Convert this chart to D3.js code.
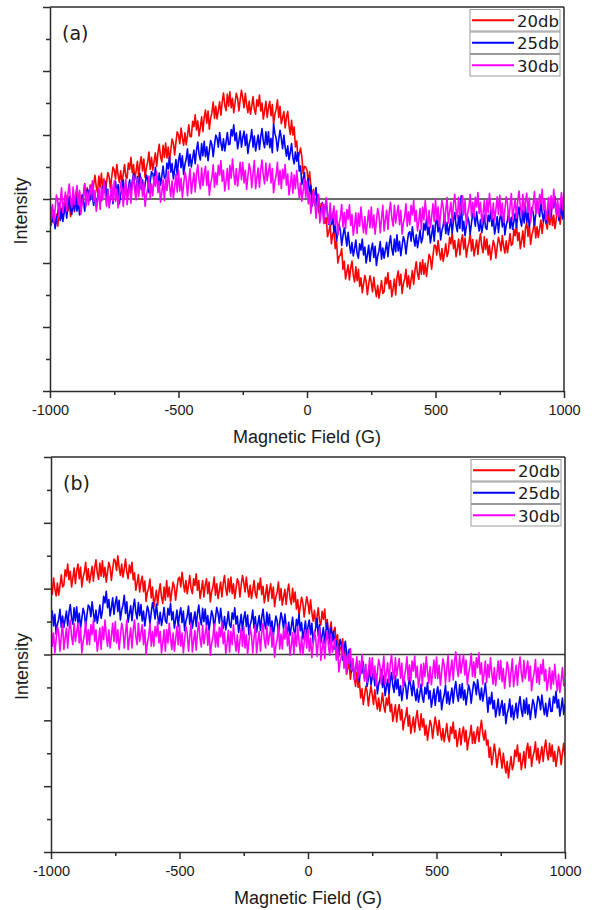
<!DOCTYPE html>
<html>
<head>
<meta charset="utf-8">
<script src="https://cdn.jsdelivr.net/npm/d3@7"></script>
<style>
  html, body { margin: 0; padding: 0; background: #fff; }
  svg { display: block; }
</style>
</head>
<body>
<svg id="chart" width="595" height="910"></svg>
<script>
// Magnetic field sweep, one sample every 5 G
const field = d3.range(-1000, 1001, 5);

const seriesNames = ["20db", "25db", "30db"];
const seriesColors = ["#ff0000", "#0000ff", "#ff00ff"];

const xMajorTicks = [-1000, -500, 0, 500, 1000];
const xMinorTicks = [-750, -250, 250, 750];
const yMajorTicks = [-6, -4, -2, 0, 2, 4, 6];
const yMinorTicks = [-5, -3, -1, 1, 3, 5];

// Panel (a) spectra, one row per 50 G
const redA = [
  -.55,-.82,-.33,-.65,-.87,-.48,-.85,-.57,-.23,-.6,
  -.6,-.12,-.28,.1,-.37,-.08,-.55,-.27,.07,-.4,
  0,.23,-.18,.2,-.37,-.03,.15,.48,-.03,.35,
  -.1,.18,.46,.03,.46,.74,.37,.19,.72,.35,
  .8,.32,.63,.2,.52,.83,.7,.32,.68,1,
  .9,.62,1.08,.75,.52,.88,.5,.77,1.08,.7,
  .65,1.12,.93,1.3,.82,1.08,.6,.87,1.18,.7,
  1.1,1.32,.88,1.25,.67,.98,1.15,1.47,.93,1.3,
  .9,1.17,1.44,1.02,1.44,1.71,1.33,1.16,1.68,1.3,
  1.75,1.28,1.62,1.2,1.53,1.87,1.75,1.38,1.77,2.1,
  2,1.73,2.22,1.9,1.68,2.07,1.7,1.98,2.32,1.95,
  1.95,2.43,2.26,2.63,2.16,2.44,1.97,2.24,2.57,2.1,
  2.55,2.78,2.37,2.75,2.18,2.52,2.7,3.03,2.52,2.9,
  2.5,2.77,3.04,2.62,3.04,3.31,2.93,2.76,3.28,2.9,
  3.35,2.85,3.15,2.7,3,3.3,3.15,2.75,3.1,3.4,
  3.15,2.85,3.3,2.95,2.7,3.05,2.65,2.9,3.2,2.8,
  2.65,3.1,2.9,3.25,2.75,3,2.5,2.75,3.05,2.55,
  2.85,3.05,2.6,2.95,2.35,2.65,2.8,3.1,2.55,2.9,
  2.35,2.54,2.73,2.22,2.56,2.74,2.28,2.02,2.46,2,
  2.25,1.63,1.81,1.23,1.41,1.59,1.32,.79,1.02,1,
  .9,.5,.85,.4,.05,.3,-.2,-.05,.15,-.35,
  -.5,-.14,-.43,-.17,-.76,-.59,-1.18,-1.02,-.81,-1.4,
  -1.1,-1,-1.55,-1.3,-2,-1.8,-1.75,-1.55,-2.2,-1.95,
  -2.5,-2.28,-2.06,-2.53,-2.16,-1.94,-2.37,-2.59,-2.12,-2.55,
  -2.2,-2.73,-2.46,-2.93,-2.66,-2.39,-2.57,-2.99,-2.67,-2.4,
  -2.6,-2.9,-2.45,-2.8,-3.05,-2.7,-3.1,-2.85,-2.55,-2.95,
  -2.9,-2.45,-2.65,-2.3,-2.8,-2.55,-3.05,-2.8,-2.5,-3,
  -2.45,-2.25,-2.7,-2.35,-2.95,-2.65,-2.5,-2.2,-2.75,-2.4,
  -2.8,-2.52,-2.24,-2.67,-2.24,-1.96,-2.33,-2.51,-1.98,-2.35,
  -1.9,-2.36,-2.01,-2.42,-2.07,-1.73,-1.83,-2.19,-1.79,-1.45,
  -1.45,-1.75,-1.3,-1.65,-1.9,-1.55,-1.95,-1.7,-1.4,-1.8,
  -1.65,-1.2,-1.4,-1.05,-1.55,-1.3,-1.8,-1.55,-1.25,-1.75,
  -1.32,-1.12,-1.57,-1.22,-1.82,-1.52,-1.37,-1.07,-1.62,-1.27,
  -1.78,-1.53,-1.28,-1.73,-1.33,-1.08,-1.48,-1.68,-1.18,-1.58,
  -1.25,-1.75,-1.45,-1.9,-1.6,-1.3,-1.45,-1.85,-1.5,-1.2,
  -1.35,-1.62,-1.14,-1.47,-1.69,-1.31,-1.68,-1.41,-1.08,-1.45,
  -1.4,-.95,-1.15,-.8,-1.3,-1.05,-1.55,-1.3,-1,-1.5,
  -.92,-.72,-1.17,-.82,-1.42,-1.12,-.97,-.67,-1.22,-.87,
  -1.2,-.93,-.66,-1.08,-.66,-.39,-.77,-.94,-.42,-.8,
  -.35,-.83,-.51,-.93,-.61,-.29,-.42,-.79,-.42,-.1,
  -.4
];
const blueA = [
  -.5,-.28,-.72,-.35,-.93,-.62,-.45,-.13,-.67,-.3,
  -.7,-.43,-.17,-.6,-.18,.08,-.3,-.48,.03,-.35,
  .1,-.38,-.07,-.5,-.18,.13,0,-.38,-.02,.3,
  .25,-.05,.4,.05,-.2,.15,-.25,0,.3,-.1,
  -.05,.4,.2,.55,.05,.3,-.2,.05,.35,-.15,
  .35,.55,.1,.45,-.15,.15,.3,.6,.05,.4,
  .1,.35,.6,.15,.55,.8,.4,.2,.7,.3,
  .8,.3,.6,.15,.45,.75,.6,.2,.55,.85,
  .8,.52,.99,.67,.44,.81,.43,.71,1.03,.65,
  .65,1.12,.94,1.32,.84,1.11,.63,.91,1.23,.75,
  1.2,1.42,.98,1.35,.77,1.08,1.25,1.57,1.03,1.4,
  1,1.27,1.53,1.1,1.52,1.78,1.4,1.22,1.73,1.35,
  1.8,1.32,1.63,1.2,1.52,1.83,1.7,1.32,1.68,2,
  1.9,1.62,2.08,1.75,1.52,1.88,1.5,1.77,2.08,1.7,
  1.72,2.17,1.97,2.32,1.82,2.07,1.57,1.82,2.12,1.62,
  1.92,2.12,1.67,2.02,1.42,1.72,1.87,2.17,1.62,1.97,
  1.5,1.75,2,1.55,1.95,2.2,1.8,1.6,2.1,1.7,
  2.1,1.6,1.9,1.45,2.35,2.05,1.9,1.5,1.85,2.15,
  1.9,1.57,1.99,1.62,1.34,1.66,1.23,1.46,1.73,1.3,
  1.1,1.47,1.18,1.45,.87,1.03,.45,.62,.83,.25,
  .5,.64,.14,.43,-.22,.02,.12,.36,-.24,.05,
  -.5,-.31,-.11,-.62,-.27,-.08,-.53,-.79,-.34,-.8,
  -.5,-1.05,-.8,-1.3,-1.05,-.8,-1,-1.45,-1.15,-.9,
  -1.15,-1.47,-1.04,-1.42,-1.69,-1.36,-1.78,-1.56,-1.28,-1.7,
  -1.85,-1.4,-1.6,-1.25,-1.75,-1.5,-2,-1.75,-1.45,-1.95,
  -1.58,-1.38,-1.83,-1.48,-2.08,-1.78,-1.63,-1.33,-1.88,-1.53,
  -1.85,-1.6,-1.35,-1.8,-1.4,-1.15,-1.55,-1.75,-1.25,-1.65,
  -1.12,-1.62,-1.32,-1.77,-1.47,-1.17,-1.32,-1.72,-1.37,-1.07,
  -1.02,-1.32,-.87,-1.22,-1.47,-1.12,-1.52,-1.27,-.97,-1.37,
  -1.22,-.77,-.97,-.62,-1.12,-.87,-1.37,-1.12,-.82,-1.32,
  -.78,-.58,-1.03,-.68,-1.28,-.98,-.83,-.53,-1.08,-.73,
  -1.12,-.87,-.62,-1.07,-.67,-.42,-.82,-1.02,-.52,-.92,
  .1,-1,-.7,-1.15,-.85,-.55,-.7,-1.1,-.75,-.45,
  -.55,-.85,-.4,-.75,-1,-.65,-1.05,-.8,-.5,-.9,
  -.95,-.5,-.7,-.35,-.85,-.6,-1.1,-.85,-.55,-1.05,
  -.62,-.42,-.87,-.52,-1.12,-.82,-.67,-.37,-.92,-.57,
  -.95,-.7,-.45,-.9,-.5,-.25,-.65,-.85,-.35,-.75,
  -.22,-.72,-.42,-.87,-.57,-.27,-.42,-.82,-.47,-.17,
  -.25,-.55,-.1,-.45,-.7,-.35,-.75,-.5,-.2,-.6,
  -.52,-.07,-.27,.08,-.42,-.17,-.67,-.42,-.12,-.62,
  -.3
];
const magentaA = [
  0,-.62,-.18,-.75,-.32,.12,-.05,-.57,-.08,.35,
  -.43,-.08,.22,-.38,.17,.47,-.03,-.28,.37,-.18,
  .17,.42,-.18,.27,-.48,-.13,.07,.47,-.23,.22,
  -.18,.42,.12,.57,-.08,.27,-.38,-.08,.32,-.33,
  .37,-.03,.57,.12,-.23,.27,-.28,.07,.47,-.08,
  .57,-.08,.32,-.28,.12,.52,.32,-.23,.22,.62,
  -.18,.17,.47,-.13,.42,.72,.22,-.03,.62,.07,
  .42,.67,.07,.52,-.23,.12,.32,.72,.02,.47,
  .1,.7,.4,.85,.2,.55,-.1,.2,.6,-.05,
  .67,.27,.87,.42,.07,.57,.02,.37,.77,.22,
  .9,.25,.65,.05,.45,.85,.65,.1,.55,.95,
  .17,.52,.82,.22,.77,1.07,.57,.32,.97,.42,
  .77,1.02,.42,.87,.12,.47,.67,1.07,.37,.82,
  .45,1.05,.75,1.2,.55,.9,.25,.55,.95,.3,
  1.05,.65,1.25,.8,.45,.95,.4,.75,1.15,.6,
  1.15,.5,.9,.3,.7,1.1,.9,.35,.8,1.2,
  .32,.67,.97,.37,.92,1.22,.72,.47,1.12,.57,
  .85,1.1,.5,.95,.2,.55,.75,1.15,.45,.9,
  .33,.93,.63,1.08,.43,.78,.13,.43,.83,.18,
  .75,.32,.89,.42,.04,.51,-.07,.26,.63,.05,
  .55,-.15,.2,-.45,-.1,.25,0,-.6,-.2,.15,
  -.75,-.42,-.14,-.77,-.24,.04,-.48,-.76,-.13,-.7,
  -.47,-.22,-.82,-.37,-1.12,-.77,-.57,-.17,-.87,-.42,
  -.93,-.33,-.63,-.18,-.83,-.48,-1.13,-.83,-.43,-1.08,
  -.45,-.85,-.25,-.7,-1.05,-.55,-1.1,-.75,-.35,-.9,
  -.25,-.9,-.5,-1.1,-.7,-.3,-.5,-1.05,-.6,-.2,
  -1,-.65,-.35,-.95,-.4,-.1,-.6,-.85,-.2,-.75,
  -.45,-.2,-.8,-.35,-1.1,-.75,-.55,-.15,-.85,-.4,
  -.8,-.2,-.5,-.05,-.7,-.35,-1,-.7,-.3,-.95,
  -.25,-.65,-.05,-.5,-.85,-.35,-.9,-.55,-.15,-.7,
  0,-.65,-.25,-.85,-.45,-.05,-.25,-.8,-.35,.05,
  -.75,-.4,-.1,-.7,-.15,.15,-.35,-.6,.05,-.5,
  -.15,.1,-.5,-.05,-.8,-.45,-.25,.15,-.55,-.1,
  -.55,.05,-.25,.2,-.45,-.1,-.75,-.45,-.05,-.7,
  -.03,-.43,.17,-.28,-.63,-.13,-.68,-.33,.07,-.48,
  .12,-.53,-.13,-.73,-.33,.07,-.13,-.68,-.23,.17,
  -.65,-.3,0,-.6,-.05,.25,-.25,-.5,.15,-.4,
  -.07,.18,-.42,.03,-.72,-.37,-.17,.23,-.47,-.02,
  -.45,.15,-.15,.3,-.35,0,-.65,-.35,.05,-.6,
  .1,-.3,.3,-.15,-.5,0,-.55,-.2,.2,-.35,
  .2
];

// Panel (b) spectra, one row per 50 G
const redB = [
  2.1,1.83,2.32,2,1.78,2.17,1.8,2.08,2.42,2.05,
  2.1,2.57,2.38,2.75,2.27,2.53,2.05,2.32,2.63,2.15,
  2.55,2.75,2.3,2.65,2.05,2.35,2.5,2.8,2.25,2.6,
  2.18,2.43,2.68,2.23,2.63,2.88,2.48,2.28,2.78,2.38,
  2.85,2.35,2.65,2.2,2.5,2.8,2.65,2.25,2.6,2.9,
  2.85,2.55,3,2.65,2.4,2.75,2.35,2.6,2.9,2.5,
  2.3,2.72,2.48,2.8,2.27,2.48,1.95,2.17,2.43,1.9,
  2.2,2.38,1.91,2.23,1.61,1.89,2.02,2.29,1.72,2.05,
  1.45,1.7,1.95,1.5,1.9,2.15,1.75,1.55,2.05,1.65,
  2.25,1.75,2.05,1.6,1.9,2.2,2.05,1.65,2,2.3,
  2.35,2.05,2.5,2.15,1.9,2.25,1.85,2.1,2.4,2,
  1.85,2.3,2.1,2.45,1.95,2.25,1.7,1.95,2.25,1.75,
  2.1,2.3,1.85,2.2,1.6,1.9,2.05,2.35,1.8,2.15,
  1.7,1.95,2.2,1.75,2.15,2.4,2,1.8,2.3,1.9,
  2.35,1.85,2.15,1.7,2,2.3,2.2,1.75,2.1,2.4,
  2.2,1.9,2.35,2,1.75,2.1,1.7,1.95,2.25,1.85,
  1.72,2.17,1.97,2.32,1.82,2.07,1.57,1.82,2.12,1.62,
  1.95,2.15,1.7,2.05,1.45,1.75,1.9,2.2,1.65,2,
  1.5,1.74,1.98,1.52,1.91,2.14,1.73,1.52,2.01,1.6,
  1.9,1.38,1.66,1.18,1.46,1.74,1.57,1.14,1.47,1.75,
  1.55,1.23,1.66,1.28,1.01,1.34,.92,1.14,1.42,1,
  .9,1.31,1.07,1.38,.84,1.06,.52,.73,.99,.45,
  .7,.83,.32,.6,-.07,.17,.25,.48,-.13,.15,
  -.6,-.42,-.23,-.75,-.42,-.23,-.7,-.97,-.53,-1,
  -.8,-1.32,-1.04,-1.52,-1.24,-.96,-1.13,-1.56,-1.23,-.95,
  -1.22,-1.52,-1.07,-1.42,-1.67,-1.32,-1.72,-1.47,-1.17,-1.57,
  -1.75,-1.32,-1.54,-1.22,-1.74,-1.51,-2.03,-1.81,-1.53,-2.05,
  -1.7,-1.52,-1.99,-1.67,-2.29,-2.01,-1.88,-1.61,-2.18,-1.85,
  -2.4,-2.15,-1.9,-2.35,-1.95,-1.7,-2.1,-2.3,-1.8,-2.2,
  -1.95,-2.45,-2.15,-2.6,-2.3,-2,-2.15,-2.55,-2.2,-1.9,
  -2.15,-2.45,-2,-2.35,-2.6,-2.25,-2.65,-2.4,-2.1,-2.5,
  -2.65,-2.2,-2.4,-2.05,-2.55,-2.3,-2.8,-2.55,-2.25,-2.75,
  -2.4,-2.2,-2.65,-2.3,-2.9,-2.6,-2.45,-2.15,-2.7,-2.35,
  -2.7,-2.45,-2.2,-2.65,-2.25,-2,-2.4,-2.6,-2.3,-2.75,
  -2.6,-3.13,-2.82,-3.35,-3.08,-2.72,-3,-3.43,-3.12,-2.85,
  -3.15,-3.45,-3,-3.35,-3.6,-3.25,-3.75,-3.4,-3.1,-3.5,
  -3.35,-2.9,-3.1,-2.75,-3.25,-3,-3.5,-3.25,-2.95,-3.45,
  -2.9,-2.7,-3.15,-2.8,-3.4,-3.1,-2.95,-2.65,-3.2,-2.85,
  -3.3,-3.05,-2.8,-3.25,-2.85,-2.6,-3,-3.2,-2.7,-3.1,
  -2.75,-3.25,-2.95,-3.4,-3.1,-2.8,-2.95,-3.35,-3,-2.7,
  -3.1
];
const blueB = [
  1.12,1.32,.87,1.22,.62,.92,1.07,1.37,.82,1.17,
  .82,1.07,1.32,.87,1.27,1.52,1.12,.92,1.42,1.02,
  1.45,.95,1.25,.8,1.1,1.4,1.25,.85,1.2,1.5,
  1.45,1.15,1.6,1.25,1,1.35,.95,1.2,1.5,1.1,
  1.32,1.77,1.57,1.92,1.42,1.67,1.17,1.42,1.72,1.22,
  1.55,1.75,1.3,1.65,1.05,1.35,1.5,1.8,1.25,1.6,
  .98,1.23,1.48,1.03,1.43,1.68,1.28,1.08,1.58,1.18,
  1.52,1.02,1.32,.87,1.17,1.47,1.32,.92,1.27,1.57,
  1.38,1.08,1.53,1.18,.93,1.28,.88,1.13,1.43,1.03,
  .95,1.4,1.2,1.55,1.05,1.3,.8,1.05,1.35,.85,
  1.22,1.42,.97,1.32,.72,1.02,1.17,1.47,.92,1.27,
  .8,1.05,1.3,.85,1.25,1.5,1.1,.9,1.4,1,
  1.38,.88,1.18,.73,1.03,1.33,1.18,.78,1.13,1.43,
  1.25,.95,1.4,1.05,.8,1.15,.75,1,1.3,.9,
  .82,1.27,1.07,1.42,.92,1.17,.67,.92,1.22,.72,
  1.1,1.3,.85,1.2,.6,.9,1.05,1.35,.8,1.15,
  .68,.93,1.18,.73,1.13,1.38,.98,.78,1.28,.88,
  1.22,.72,1.02,.57,.87,1.17,1.02,.62,.97,1.27,
  1.08,.78,1.23,.88,.63,.98,.58,.83,1.13,.73,
  .62,1.07,.87,1.22,.72,.97,.47,.72,1.02,.52,
  .85,1.05,.6,.95,.35,.65,.8,1.1,.55,.9,
  .35,.58,.82,.35,.73,.97,.55,.33,.82,.4,
  .7,.16,.42,-.07,.19,.46,.27,-.17,.14,.4,
  .1,-.24,.16,-.23,-.53,-.22,-.67,-.46,-.21,-.65,
  -.82,-.37,-.57,-.22,-.72,-.47,-.97,-.72,-.42,-.92,
  -.7,-.5,-.95,-.6,-1.2,-.9,-.75,-.45,-1,-.65,
  -1.25,-1,-.75,-1.2,-.8,-.55,-.95,-1.15,-.65,-1.05,
  -.75,-1.25,-.95,-1.4,-1.1,-.8,-.95,-1.35,-1,-.7,
  -.95,-1.25,-.8,-1.15,-1.4,-1.05,-1.45,-1.2,-.9,-1.3,
  -1.45,-1,-1.2,-.85,-1.35,-1.1,-1.6,-1.35,-1.05,-1.55,
  -1.18,-.98,-1.43,-1.08,-1.68,-1.38,-1.23,-.93,-1.48,-1.13,
  -1.52,-1.27,-1.02,-1.47,-1.07,-.82,-1.22,-1.42,-.92,-1.32,
  -.88,-1.38,-1.08,-1.53,-1.23,-.93,-1.08,-1.48,-1.13,-.83,
  -.92,-1.22,-.77,-1.12,-1.37,-1.02,-1.42,-1.17,-.87,-1.27,
  -1.75,-1.3,-1.5,-1.15,-1.65,-1.4,-1.9,-1.65,-1.35,-1.85,
  -1.6,-1.4,-1.85,-1.5,-2.1,-1.8,-1.65,-1.35,-1.9,-1.55,
  -1.98,-1.73,-1.48,-1.93,-1.53,-1.28,-1.68,-1.88,-1.38,-1.78,
  -1.32,-1.82,-1.52,-1.97,-1.67,-1.37,-1.52,-1.92,-1.57,-1.27,
  -1.38,-1.68,-1.23,-1.58,-1.83,-1.48,-1.88,-1.63,-1.33,-1.73,
  -1.72,-1.27,-1.47,-1.12,-1.62,-1.37,-1.87,-1.62,-1.32,-1.82,
  -1.5
];
const magentaB = [
  .9,.25,.65,.05,.45,.85,.65,.1,.55,.95,
  .15,.5,.8,.2,.75,1.05,.55,.3,.95,.4,
  .7,.95,.35,.8,.05,.4,.6,1,.3,.75,
  .3,.9,.6,1.05,.4,.75,.1,.4,.8,.15,
  .85,.45,1.05,.6,.25,.75,.2,.55,.95,.4,
  1,.35,.75,.15,.55,.95,.75,.2,.65,1.05,
  .15,.5,.8,.2,.75,1.05,.55,.3,.95,.4,
  .65,.9,.3,.75,0,.35,.55,.95,.25,.7,
  .25,.85,.55,1,.35,.7,.05,.35,.75,.1,
  .75,.35,.95,.5,.15,.65,.1,.45,.85,.3,
  .9,.25,.65,.05,.45,.85,.65,.1,.55,.95,
  .08,.43,.73,.13,.68,.98,.48,.23,.88,.33,
  .63,.88,.28,.73,-.02,.33,.53,.93,.23,.68,
  .23,.83,.53,.98,.33,.68,.03,.33,.73,.08,
  .7,.3,.9,.45,.1,.6,.05,.4,.8,.25,
  .85,.2,.6,0,.4,.8,.6,.05,.5,.9,
  .05,.4,.7,.1,.65,.95,.45,.2,.85,.3,
  .57,.82,.22,.67,-.08,.27,.47,.87,.17,.62,
  .17,.77,.47,.92,.27,.62,-.03,.27,.67,.02,
  .65,.25,.85,.4,.05,.55,0,.35,.75,.2,
  .75,.1,.5,-.1,.3,.7,.5,-.05,.4,.8,
  -.18,.17,.47,-.13,.42,.72,.22,-.03,.62,.07,
  .25,.47,-.17,.25,-.53,-.22,-.05,.32,-.42,0,
  -.57,.03,-.27,.18,-.47,-.12,-.77,-.47,-.07,-.72,
  -.2,-.6,0,-.45,-.8,-.3,-.85,-.5,-.1,-.65,
  -.1,-.75,-.35,-.95,-.55,-.15,-.35,-.9,-.45,-.05,
  -.9,-.55,-.25,-.85,-.3,0,-.5,-.75,-.1,-.65,
  -.37,-.12,-.72,-.27,-1.02,-.67,-.47,-.07,-.77,-.32,
  -.8,-.2,-.5,-.05,-.7,-.35,-1,-.7,-.3,-.95,
  -.27,-.67,-.07,-.52,-.87,-.37,-.92,-.57,-.17,-.72,
  -.08,-.73,-.33,-.93,-.53,-.13,-.33,-.88,-.43,-.03,
  -.82,-.47,-.17,-.77,-.22,.08,-.42,-.67,-.02,-.57,
  -.27,-.02,-.62,-.17,-.92,-.57,-.37,.03,-.67,-.22,
  -.7,-.1,-.4,.05,-.6,-.25,-.9,-.6,-.2,-.85,
  -.3,-.7,-.1,-.55,-.9,-.4,-.95,-.6,-.2,-.75,
  -.18,-.83,-.43,-1.03,-.63,-.23,-.43,-.98,-.53,-.13,
  -.98,-.63,-.33,-.93,-.38,-.08,-.58,-.83,-.18,-.73,
  -.45,-.2,-.8,-.35,-1.1,-.75,-.55,-.15,-.85,-.4,
  -.9,-.3,-.6,-.15,-.8,-.45,-1.1,-.8,-.4,-1.05,
  -.5,-.9,-.3,-.75,-1.1,-.6,-1.15,-.8,-.4,-.95,
  -.9
];

const svg = d3.select("#chart");
const axisColor = "#2b2b2b";
const labelFont = "'Liberation Sans', Arial, sans-serif";
const tagFont = "'DejaVu Sans', Verdana, sans-serif";

function drawPanel(cfg) {
  const { left, right, top, bottom, tag, series, id } = cfg;
  const x = d3.scaleLinear().domain([-1000, 1000]).range([left, right]);
  const y = d3.scaleLinear().domain([-6, 6]).range([bottom, top]);
  const g = svg.append("g");

  g.append("clipPath").attr("id", id)
    .append("rect")
    .attr("x", left).attr("y", top)
    .attr("width", right - left).attr("height", bottom - top);

  // zero baseline
  g.append("line")
    .attr("x1", left).attr("x2", right)
    .attr("y1", y(0)).attr("y2", y(0))
    .attr("stroke", "#3a3a3a").attr("stroke-width", 1.4);

  const line = d3.line()
    .x((d, i) => x(field[i]))
    .y(d => y(d));

  const plot = g.append("g").attr("clip-path", `url(#${id})`);
  series.forEach((vals, k) => {
    plot.append("path")
      .datum(vals)
      .attr("d", line)
      .attr("fill", "none")
      .attr("stroke", seriesColors[k])
      .attr("stroke-width", 1.6)
      .attr("stroke-linejoin", "round");
  });

  // frame: top and right edges
  g.append("line").attr("x1", left).attr("x2", right).attr("y1", top).attr("y2", top)
    .attr("stroke", axisColor).attr("stroke-width", 1.5);
  g.append("line").attr("x1", right).attr("x2", right).attr("y1", top).attr("y2", bottom)
    .attr("stroke", axisColor).attr("stroke-width", 1.5);

  // bottom axis, major and minor ticks
  const xAxis = g.append("g")
    .attr("transform", `translate(0,${bottom})`)
    .call(d3.axisBottom(x).tickValues(xMajorTicks).tickSize(7).tickSizeOuter(0)
      .tickPadding(7).tickFormat(d => String(d)));
  g.append("g")
    .attr("transform", `translate(0,${bottom})`)
    .call(d3.axisBottom(x).tickValues(xMinorTicks).tickSize(4).tickSizeOuter(0).tickFormat(""))
    .select(".domain").remove();

  // left axis, unlabeled
  g.append("g")
    .attr("transform", `translate(${left},0)`)
    .call(d3.axisLeft(y).tickValues(yMajorTicks).tickSize(7).tickSizeOuter(0).tickFormat(""));
  g.append("g")
    .attr("transform", `translate(${left},0)`)
    .call(d3.axisLeft(y).tickValues(yMinorTicks).tickSize(4).tickSizeOuter(0).tickFormat(""))
    .select(".domain").remove();

  g.selectAll(".domain, .tick line")
    .attr("stroke", axisColor).attr("stroke-width", 1.5);
  xAxis.selectAll(".tick text")
    .attr("fill", "#1a1a1a")
    .style("font-family", labelFont)
    .style("font-size", "14.5px");

  // axis titles
  g.append("text")
    .attr("x", (left + right) / 2)
    .attr("y", bottom + 52)
    .attr("text-anchor", "middle")
    .attr("fill", "#1a1a1a")
    .style("font-family", labelFont)
    .style("font-size", "18px")
    .text("Magnetic Field (G)");
  g.append("text")
    .attr("transform", `translate(${left - 29},${(top + bottom) / 2 + 12}) rotate(-90)`)
    .attr("text-anchor", "middle")
    .attr("dominant-baseline", "central")
    .attr("fill", "#1a1a1a")
    .style("font-family", labelFont)
    .style("font-size", "18px")
    .text("Intensity");

  // panel tag
  g.append("text")
    .attr("x", left + 12)
    .attr("y", top + 33)
    .attr("fill", "#1a1a1a")
    .style("font-family", tagFont)
    .style("font-size", "19px")
    .text(tag);

  // legend: one framed row per series
  const boxW = 90, boxH = 21.5, step = 22.5;
  const bx = right - 94;
  seriesNames.forEach((name, k) => {
    const by = top + 2.5 + k * step;
    const row = g.append("g");
    row.append("rect")
      .attr("x", bx).attr("y", by).attr("width", boxW).attr("height", boxH)
      .attr("fill", "#fff").attr("stroke", "#9a9a9a").attr("stroke-width", 1);
    row.append("line")
      .attr("x1", bx + 2).attr("x2", bx + 44)
      .attr("y1", by + boxH / 2).attr("y2", by + boxH / 2)
      .attr("stroke", seriesColors[k]).attr("stroke-width", 1.8);
    row.append("text")
      .attr("x", bx + boxW - 1)
      .attr("y", by + boxH / 2 + 6.5)
      .attr("text-anchor", "end")
      .attr("fill", "#1a1a1a")
      .style("font-family", tagFont)
      .style("font-size", "16.5px")
      .text(name);
  });
}

drawPanel({ id: "clipA", left: 50, right: 564, top: 7, bottom: 391, tag: "(a)",
  series: [redA, blueA, magentaA] });
drawPanel({ id: "clipB", left: 51, right: 565, top: 457, bottom: 852, tag: "(b)",
  series: [redB, blueB, magentaB] });
</script>
</body>
</html>
